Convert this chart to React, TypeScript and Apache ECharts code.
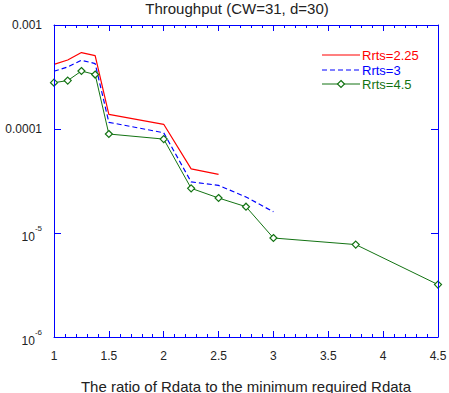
import React, { useEffect, useRef } from "react";
import * as echarts from "echarts";

const titleText = "Throughput (CW=31, d=30)";
const xAxisName = "The ratio of Rdata to the minimum required Rdata";

const xValues = [1, 1.125, 1.25, 1.375, 1.5, 2, 2.25, 2.5, 2.75, 3, 3.75, 4.5];

const seriesNames = ["Rrts=2.25", "Rrts=3", "Rrts=4.5"];
const seriesColors = ["#ff0000", "#0000ff", "#137313"];

const rrts225 = [4.18e-4, 4.61e-4, 5.43e-4, 5.08e-4, 1.38e-4, 1.11e-4, 4.14e-5, 3.66e-5];
const rrts3 = [3.59e-4, 3.95e-4, 4.58e-4, 4.26e-4, 1.16e-4, 9.2e-5, 3.1e-5, 2.87e-5, 2.22e-5, 1.6e-5];
const rrts45 = [2.79e-4, 2.92e-4, 3.61e-4, 3.34e-4, 8.95e-5, 8.0e-5, 2.69e-5, 2.17e-5, 1.79e-5, 8.95e-6, 7.74e-6, 3.19e-6];

const xTickLabels = ["1", "1.5", "2", "2.5", "3", "3.5", "4", "4.5"];
const yTickExponents = [-6, -5, -4, -3];
const yTickLabels = ["10^-6", "10^-5", "0.0001", "0.001"];

const FONT = "Liberation Sans, Arial, sans-serif";
const AXIS_BLUE = "#0000ff";
const TEXT_COLOR = "#222222";

const GRID = { left: 54, right: 11, top: 25, bottom: 56, containLabel: false, outerBoundsMode: "none" };
const X_RANGE = { min: 1, max: 4.5, interval: 0.5 };
const Y_RANGE = { min: 1e-6, max: 1e-3 };

function pairs(ys: number[]) {
  return ys.map((y, i) => [xValues[i], y]);
}

function yLabel(v: number) {
  const e = Math.round(Math.log10(v));
  const idx = yTickExponents.indexOf(e);
  if (idx < 0) return "";
  const lab = yTickLabels[idx];
  if (lab.indexOf("^") >= 0) {
    const parts = lab.split("^");
    return `{b|${parts[0]}}{s|${parts[1]}}`;
  }
  return `{n|${lab}}`;
}

function xLabel(v: number) {
  const idx = xTickLabels.map(Number).findIndex((t) => Math.abs(t - v) < 1e-9);
  return idx >= 0 ? xTickLabels[idx] : "";
}

function dataOption(): any {
  const legendRows = [55, 70, 84];
  const legendGraphics: any[] = [];
  seriesNames.forEach((name, i) => {
    const y = legendRows[i];
    const lineStyle: any = { stroke: seriesColors[i], lineWidth: i === 0 ? 1.2 : 1 };
    if (i === 1) lineStyle.lineDash = [5, 3];
    legendGraphics.push({ type: "line", shape: { x1: 322, y1: y, x2: 360, y2: y }, style: lineStyle, silent: true });
    if (i === 2) {
      legendGraphics.push({
        type: "polygon",
        shape: { points: [[341, y - 3.5], [344.5, y], [341, y + 3.5], [337.5, y]] },
        style: { fill: "#fff", stroke: seriesColors[i], lineWidth: 1.2 },
        silent: true,
      });
    }
    legendGraphics.push({
      type: "text", x: 362, y: y,
      style: { text: name, fill: seriesColors[i], font: `13px ${FONT}`, verticalAlign: "middle" },
      silent: true,
    });
  });
  return {
    animation: false,
    backgroundColor: "#ffffff",
    title: {
      text: titleText, left: 237, top: 1, padding: 0, textAlign: "center",
      textStyle: { fontSize: 15, fontWeight: "normal", color: TEXT_COLOR, fontFamily: FONT },
    },
    grid: { ...GRID },
    xAxis: { type: "value", ...X_RANGE, show: false },
    yAxis: { type: "log", logBase: 10, ...Y_RANGE, show: false },
    series: [
      { name: seriesNames[0], type: "line", data: pairs(rrts225), symbol: "none",
        lineStyle: { color: seriesColors[0], width: 1.2 }, itemStyle: { color: seriesColors[0] } },
      { name: seriesNames[1], type: "line", data: pairs(rrts3), symbol: "none",
        lineStyle: { color: seriesColors[1], width: 1.2, type: [5, 3] }, itemStyle: { color: seriesColors[1] } },
      { name: seriesNames[2], type: "line", data: pairs(rrts45), symbol: "diamond", symbolSize: 7,
        lineStyle: { color: seriesColors[2], width: 1 },
        itemStyle: { color: "#ffffff", borderColor: seriesColors[2], borderWidth: 1.2 } },
    ],
    graphic: legendGraphics,
  };
}

function axesOption(): any {
  const mkX = (position: string, withLabels: boolean): any => ({
    type: "value",
    ...X_RANGE,
    position,
    axisLine: { show: true, onZero: false, lineStyle: { color: AXIS_BLUE } },
    axisTick: { show: true, inside: true, length: 6, lineStyle: { color: AXIS_BLUE } },
    minorTick: { show: true, splitNumber: 5, length: 3, lineStyle: { color: AXIS_BLUE } },
    splitLine: { show: false },
    axisLabel: withLabels
      ? { show: true, margin: 13, fontSize: 12, color: TEXT_COLOR, fontFamily: FONT, formatter: xLabel }
      : { show: false },
  });
  const mkY = (position: string, withLabels: boolean): any => ({
    type: "log",
    logBase: 10,
    ...Y_RANGE,
    position,
    axisLine: { show: true, onZero: false, lineStyle: { color: AXIS_BLUE } },
    axisTick: { show: true, inside: true, length: 7, lineStyle: { color: AXIS_BLUE } },
    splitLine: { show: false },
    axisLabel: withLabels
      ? {
          show: true,
          margin: 12,
          color: TEXT_COLOR,
          fontFamily: FONT,
          formatter: yLabel,
          rich: {
            n: { fontSize: 12, color: TEXT_COLOR, fontFamily: FONT },
            b: { fontSize: 12, color: TEXT_COLOR, fontFamily: FONT, padding: [7, 0, 0, 0] },
            s: { fontSize: 8, color: TEXT_COLOR, fontFamily: FONT, padding: [0, 0, 10, 0] },
          },
        }
      : { show: false },
  });
  const bottomX = mkX("bottom", true);
  bottomX.name = xAxisName;
  bottomX.nameLocation = "middle";
  bottomX.nameGap = 42;
  bottomX.nameTextStyle = { fontSize: 15, color: TEXT_COLOR, fontFamily: FONT };
  return {
    animation: false,
    backgroundColor: "transparent",
    grid: { ...GRID },
    xAxis: [bottomX, mkX("top", false)],
    yAxis: [mkY("left", true), mkY("right", false)],
    series: [],
  };
}

export default function App() {
  const dataRef = useRef<HTMLDivElement>(null);
  const axesRef = useRef<HTMLDivElement>(null);
  useEffect(() => {
    document.body.style.margin = "0";
    if (!dataRef.current || !axesRef.current) return;
    const dataChart = echarts.init(dataRef.current, null, { renderer: "svg" });
    dataChart.setOption(dataOption());
    const axesChart = echarts.init(axesRef.current, null, { renderer: "svg" });
    axesChart.setOption(axesOption());
    return () => {
      axesChart.dispose();
      dataChart.dispose();
    };
  }, []);

  return (
    <div style={{ position: "relative", width: 449, height: 393 }}>
      <div ref={dataRef} style={{ position: "absolute", left: 0, top: 0, width: 449, height: 393 }} />
      <div ref={axesRef} style={{ position: "absolute", left: 0, top: 0, width: 449, height: 393, pointerEvents: "none" }} />
    </div>
  );
}
